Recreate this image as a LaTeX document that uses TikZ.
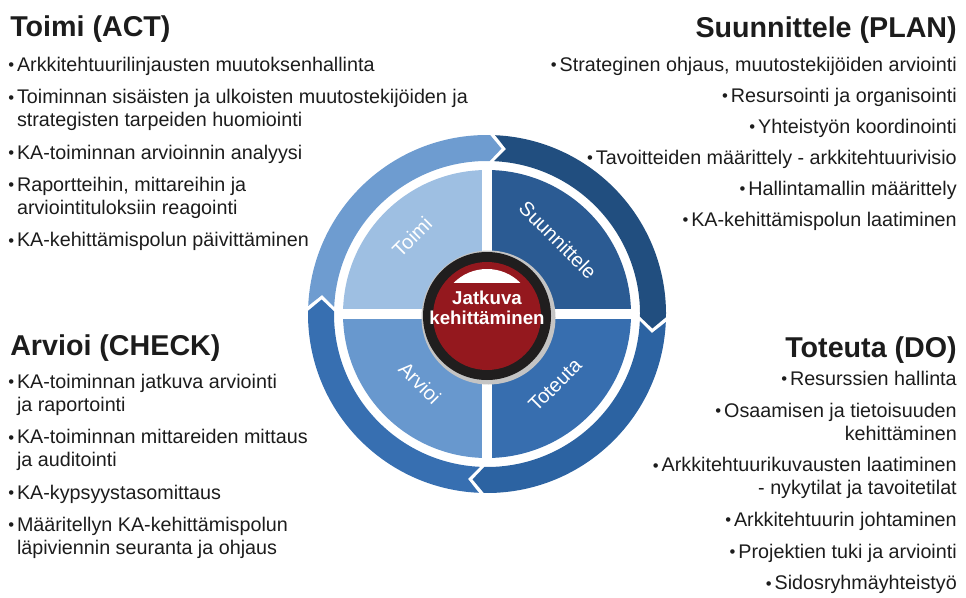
\documentclass[tikz,border=0pt]{standalone}
\usepackage{fontspec}
\setmainfont{Liberation Sans}
\usetikzlibrary{calc}
\definecolor{inkgray}{RGB}{28,28,28}
\definecolor{ringact}{RGB}{110,156,208}
\definecolor{ringplan}{RGB}{33,78,127}
\definecolor{ringdo}{RGB}{44,99,162}
\definecolor{ringcheck}{RGB}{55,111,177}
\definecolor{quadact}{RGB}{158,191,226}
\definecolor{quadplan}{RGB}{43,91,147}
\definecolor{quaddo}{RGB}{55,110,175}
\definecolor{quadcheck}{RGB}{104,152,206}
\definecolor{hubred}{RGB}{148,24,30}
\definecolor{hubrim}{RGB}{32,30,30}
\definecolor{hubhalo}{RGB}{196,196,196}
\newcommand{\pbul}{\raisebox{.5pt}{\fontsize{12.5}{12.5}\selectfont\textbullet}\hspace{2.2pt}}
\newcommand{\pind}{\hphantom{\pbul}}

\begin{document}
\begin{tikzpicture}[x=0.75pt, y=0.75pt,
  heading/.style={font=\fontsize{21.5}{25}\selectfont\bfseries, text=inkgray, inner sep=0pt},
  bullets/.style={font=\fontsize{14.8}{17.25}\selectfont, text=inkgray, inner sep=0pt},
  quadlabel/.style={font=\fontsize{15}{18}\selectfont, text=white, inner sep=0pt},
]
\useasboundingbox (0,0) rectangle (966,597);
\coordinate (hub) at (487,283);
\coordinate (core) at (487,281);

% inner quadrants
\fill[quadact] (hub) -- ++(90:144) arc[start angle=90, end angle=180, radius=144] -- cycle;
\fill[quadplan] (hub) -- ++(0:144) arc[start angle=0, end angle=90, radius=144] -- cycle;
\fill[quaddo] (hub) -- ++(270:144) arc[start angle=270, end angle=360, radius=144] -- cycle;
\fill[quadcheck] (hub) -- ++(180:144) arc[start angle=180, end angle=270, radius=144] -- cycle;
\draw[white, line width=7.5pt] ($(hub)+(-146,0)$) -- ($(hub)+(146,0)$)
  ($(hub)+(0,-146)$) -- ($(hub)+(0,146)$);

% outer ring, four arrows running clockwise
\foreach \tail/\head/\col in {177/87/ringact, 87/-3/ringplan, -3/-93/ringdo, -93/-183/ringcheck}
  \fill[\col, shift={(hub)}] ({\tail+0.4}:179) arc[start angle=\tail+0.4, end angle=\head+2, radius=179]
    -- ({\head-2}:166) -- ({\head+2}:153)
    arc[start angle=\head+2, end angle=\tail+0.4, radius=153]
    -- ({\tail-3.6}:166) -- cycle;

% hub disc
\fill[hubhalo] ($(core)+(1.5,-1.5)$) circle[radius=67];
\fill[hubrim] (core) circle[radius=64];
\fill[hubred] (core) circle[radius=54];
\begin{scope}
  \clip (core) circle[radius=47];
  \fill[white] ($(core)+(-50,33)$) rectangle ($(core)+(50,50)$);
\end{scope}
\node[font=\fontsize{14}{15}\selectfont\bfseries, text=white, align=center, inner sep=0pt] (coretext) at (487,289) {Jatkuva\\kehittäminen};

\node[quadlabel, rotate=45] (lblact) at (412,360) {Toimi};
\node[quadlabel, rotate=-45] (lblplan) at (558,357) {Suunnittele};
\node[quadlabel, rotate=45] (lbldo) at (555,212) {Toteuta};
\node[quadlabel, rotate=-45] (lblcheck) at (420,214) {Arvioi};

% corner texts
\node[heading, anchor=base west] (actHead) at (10,560) {Toimi (ACT)};
\node[bullets, anchor=north west, align=left] (actList) at (8,540) {%
\pbul Arkkitehtuurilinjausten muutoksenhallinta\\[7pt]
\pbul Toiminnan sisäisten ja ulkoisten muutostekijöiden ja\\
\pind strategisten tarpeiden huomiointi\\[7pt]
\pbul KA-toiminnan arvioinnin analyysi\\[7pt]
\pbul Raportteihin, mittareihin ja\\
\pind arviointituloksiin reagointi\\[7pt]
\pbul KA-kehittämispolun päivittäminen};

\node[heading, anchor=base east] (planHead) at (957,559) {Suunnittele (PLAN)};
\node[bullets, anchor=north east, align=right] (planList) at (957,540) {%
\pbul Strateginen ohjaus, muutostekijöiden arviointi\\[6pt]
\pbul Resursointi ja organisointi\\[6pt]
\pbul Yhteistyön koordinointi\\[6pt]
\pbul Tavoitteiden määrittely - arkkitehtuurivisio\\[6pt]
\pbul Hallintamallin määrittely\\[6pt]
\pbul KA-kehittämispolun laatiminen};

\node[heading, anchor=base west] (checkHead) at (10,242) {Arvioi (CHECK)};
\node[bullets, anchor=north west, align=left] (checkList) at (8,223) {%
\pbul KA-toiminnan jatkuva arviointi\\
\pind ja raportointi\\[7pt]
\pbul KA-toiminnan mittareiden mittaus\\
\pind ja auditointi\\[7pt]
\pbul KA-kypsyystasomittaus\\[7pt]
\pbul Määritellyn KA-kehittämispolun\\
\pind läpiviennin seuranta ja ohjaus};

\node[heading, anchor=base east] (doHead) at (957,240) {Toteuta (DO)};
\node[bullets, anchor=north east, align=right] (doList) at (957,226) {%
\pbul Resurssien hallinta\\[6.5pt]
\pbul Osaamisen ja tietoisuuden\\
kehittäminen\\[6.5pt]
\pbul Arkkitehtuurikuvausten laatiminen\\
- nykytilat ja tavoitetilat\\[6.5pt]
\pbul Arkkitehtuurin johtaminen\\[6.5pt]
\pbul Projektien tuki ja arviointi\\[6.5pt]
\pbul Sidosryhmäyhteistyö};
\end{tikzpicture}
\end{document}
